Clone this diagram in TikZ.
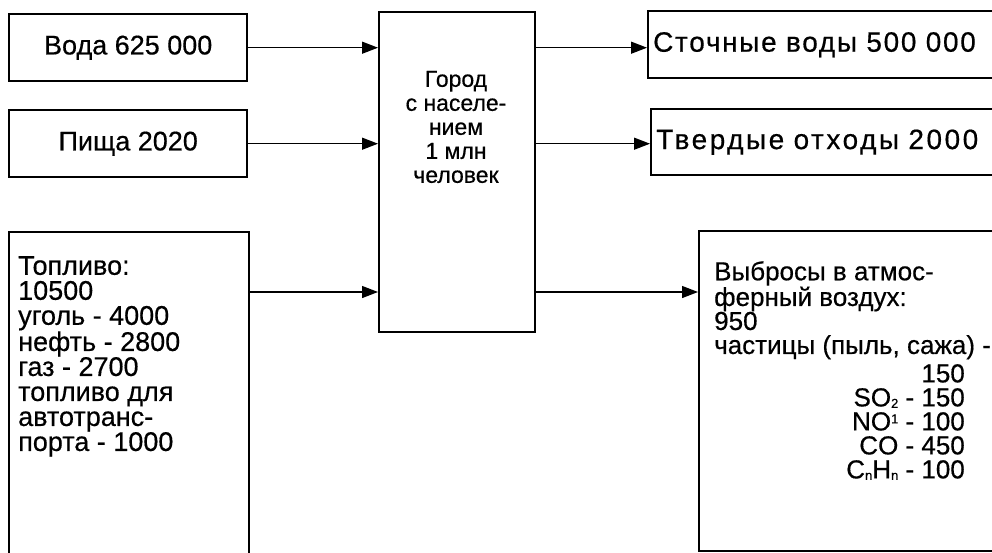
\documentclass[tikz,border=0pt]{standalone}
\usepackage{fontspec}
\setmainfont{Liberation Sans}
\newfontfamily\scanfont{Liberation Sans}[FakeBold=0.5]
\usetikzlibrary{positioning,arrows.meta}
\newcommand\lowidx[1]{\raisebox{-1.5pt}{\fontsize{13}{13}\selectfont #1}}
\newcommand\highidx[1]{\raisebox{7pt}{\fontsize{13}{13}\selectfont #1}}

\begin{document}
\begin{tikzpicture}[x=1pt, y=-1pt,
  every node/.style={font=\scanfont\fontsize{26}{24}\selectfont},
  box/.style={draw, line width=2.4pt, inner sep=0pt, anchor=north west},
  inbox/.style={box, font=\scanfont\fontsize{27}{24}\selectfont},
  outbox/.style={box, align=left, text width=340pt, inner xsep=5pt,
    font=\scanfont\fontsize{28}{24}\selectfont\addfontfeatures{LetterSpace=#1}},
  txt/.style={inner sep=0pt, align=left, anchor=north west},
  flow/.style={line width=1.3pt, -{Triangle[length=16pt,width=12pt]}}
]
\useasboundingbox (0,0) rectangle (992,552);

% Inputs
\node[inbox, minimum width=238pt, minimum height=67pt] (voda) at (8,13) {Вода 625 000};
\node[inbox, minimum width=238pt, minimum height=67pt] (pishcha) at (8,109) {Пища 2020};
\node[box, minimum width=240pt, minimum height=330pt] (toplivo) at (8,231) {};
\node[txt, font=\scanfont\fontsize{27}{25}\selectfont] (toplivotxt) at (18,256)
  {Топливо:\\10500\\уголь - 4000\\нефть - 2800\\газ - 2700\\топливо для\\автотранс-\\порта - 1000};

% City
\node[box, minimum width=156pt, minimum height=320pt] (gorod) at (378,11) {};
\node[align=center, inner sep=0pt, font=\scanfont\fontsize{23}{24}\selectfont] (gorodtxt) at (456,127)
  {Город\\с населе-\\нием\\1 млн\\человек};

% Outputs
\node[outbox=6, minimum height=67pt] (stoki) at (647,10) {Сточные воды 500 000};
\node[outbox=9, minimum height=66pt] (otkhody) at (650,108) {Твердые отходы 2000};
\node[box, minimum width=300pt, minimum height=320pt] (vybrosy) at (698,230) {};
\node[txt] (vybrosytxt) at (714,261)
  {Выбросы в атмос-\\ферный воздух:\\950\\частицы (пыль, сажа) -};
\node[inner sep=0pt, align=right, anchor=north east] (gazy) at (965,364)
  {150\\SO\lowidx{2} - 150\\NO\highidx{1} - 100\\CO - 450\\C\lowidx{n}H\lowidx{n} - 100};

% Flows in
\coordinate (fuelout) at ([yshift=-61pt]toplivo.north east);
\draw[flow] (voda.east) -- (voda.east -| gorod.west);
\draw[flow] (pishcha.east) -- (pishcha.east -| gorod.west);
\draw[flow] (fuelout) -- (fuelout -| gorod.west);

% Flows out
\draw[flow] (voda.east -| gorod.east) -- (voda.east -| stoki.west);
\draw[flow] (pishcha.east -| gorod.east) -- (pishcha.east -| otkhody.west);
\draw[flow] (fuelout -| gorod.east) -- (fuelout -| vybrosy.west);

\end{tikzpicture}
\end{document}
